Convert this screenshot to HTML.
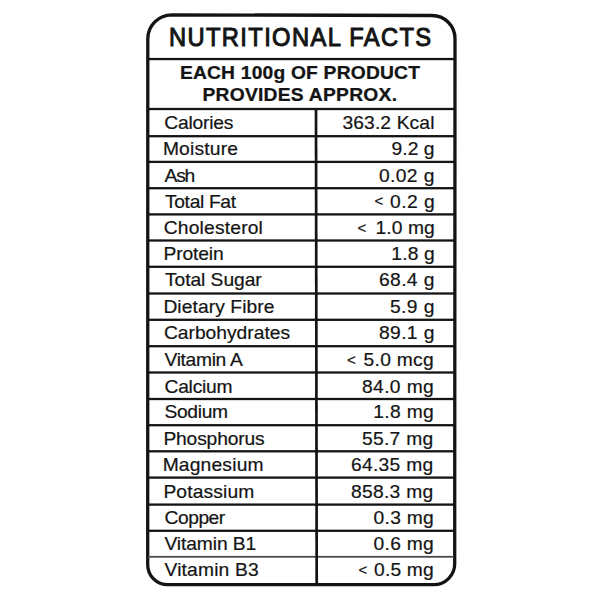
<!DOCTYPE html>
<html><head><meta charset="utf-8"><style>
html,body{margin:0;padding:0;background:#fff;}
body{width:600px;height:600px;overflow:hidden;}
svg{display:block;}
text{font-family:"Liberation Sans",sans-serif;}
</style></head><body>
<svg width="600" height="600" viewBox="0 0 600 600">
<path d="M171.8,14.8 L432,15.5 A23,23 0 0 1 455,38.5 L454.7,563.7 A21,21 0 0 1 433.7,584.7 L167.7,584.7 A20,20 0 0 1 147.7,564.7 L147.8,38.8 A24,24 0 0 1 171.8,14.8 Z" fill="none" stroke="#141414" stroke-width="3.3"/>
<g fill="#141414">
<rect x="148" y="57.9" width="306" height="2.3"/>
<rect x="148" y="107.85" width="306" height="2.3"/>
<rect x="148" y="135.05" width="306" height="2.3"/>
<rect x="148" y="160.75" width="306" height="2.3"/>
<rect x="148" y="187.05" width="306" height="2.3"/>
<rect x="148" y="213.25" width="306" height="2.3"/>
<rect x="148" y="239.35" width="306" height="2.3"/>
<rect x="148" y="265.65" width="306" height="2.3"/>
<rect x="148" y="292.35" width="306" height="2.3"/>
<rect x="148" y="318.65" width="306" height="2.3"/>
<rect x="148" y="345.05" width="306" height="2.3"/>
<rect x="148" y="371.35" width="306" height="2.3"/>
<rect x="148" y="397.85" width="306" height="2.3"/>
<rect x="148" y="424.05" width="306" height="2.3"/>
<rect x="148" y="450.15" width="306" height="2.3"/>
<rect x="148" y="476.45" width="306" height="2.3"/>
<rect x="148" y="503.45" width="306" height="2.3"/>
<rect x="148" y="529.65" width="306" height="2.3"/>
<rect x="148" y="555.90" width="306" height="1.8" fill="#4a4a4a"/>
<path d="M314.65,108 L317.35,108 L318.05,584 L315.35,584 Z"/>
</g>
<g fill="#141414" font-family="Liberation Sans, sans-serif">
<text transform="translate(168.97 46.40) scale(0.95 1)" font-size="25" letter-spacing="1.429" stroke="#141414" stroke-width="1.0">NUTRITIONAL FACTS</text>
<text transform="translate(179.90 79.00) scale(1.1 1)" font-size="17.5" letter-spacing="0.186" font-weight="bold" stroke="#141414" stroke-width="0.25">EACH 100g OF PRODUCT</text>
<text transform="translate(202.40 100.70) scale(1.1 1)" font-size="17.5" letter-spacing="0.247" font-weight="bold" stroke="#141414" stroke-width="0.25">PROVIDES APPROX.</text>
<text transform="translate(164.30 129.33) scale(1.1 1)" font-size="17.5" letter-spacing="-0.193" stroke="#141414" stroke-width="0.2">Calories</text>
<text transform="translate(342.40 129.33) scale(1.1 1)" font-size="17.5" letter-spacing="0.122" stroke="#141414" stroke-width="0.2">363.2 Kcal</text>
<text transform="translate(162.90 155.25) scale(1.1 1)" font-size="17.5" letter-spacing="0.168" stroke="#141414" stroke-width="0.2">Moisture</text>
<text transform="translate(391.60 155.25) scale(1.1 1)" font-size="17.5" letter-spacing="-0.002" stroke="#141414" stroke-width="0.2">9.2 g</text>
<text transform="translate(164.50 181.81) scale(1.1 1)" font-size="17.5" letter-spacing="-1.075" stroke="#141414" stroke-width="0.2">Ash</text>
<text transform="translate(379.00 181.81) scale(1.1 1)" font-size="17.5" letter-spacing="0.343" stroke="#141414" stroke-width="0.2">0.02 g</text>
<text transform="translate(165.00 207.98) scale(1.1 1)" font-size="17.5" letter-spacing="-0.310" stroke="#141414" stroke-width="0.2">Total Fat</text>
<text x="374.50" y="206.38" font-size="15" stroke="#141414" stroke-width="0.2">&lt;</text>
<text transform="translate(390.00 207.98) scale(1.1 1)" font-size="17.5" letter-spacing="0.453" stroke="#141414" stroke-width="0.2">0.2 g</text>
<text transform="translate(163.75 234.39) scale(1.1 1)" font-size="17.5" letter-spacing="0.169" stroke="#141414" stroke-width="0.2">Cholesterol</text>
<text x="357.50" y="232.79" font-size="15" stroke="#141414" stroke-width="0.2">&lt;</text>
<text transform="translate(375.40 234.39) scale(1.1 1)" font-size="17.5" letter-spacing="0.101" stroke="#141414" stroke-width="0.2">1.0 mg</text>
<text transform="translate(163.40 260.41) scale(1.1 1)" font-size="17.5" letter-spacing="-0.089" stroke="#141414" stroke-width="0.2">Protein</text>
<text transform="translate(391.30 260.41) scale(1.1 1)" font-size="17.5" letter-spacing="0.157" stroke="#141414" stroke-width="0.2">1.8 g</text>
<text transform="translate(165.00 286.37) scale(1.1 1)" font-size="17.5" letter-spacing="-0.052" stroke="#141414" stroke-width="0.2">Total Sugar</text>
<text transform="translate(379.00 286.37) scale(1.1 1)" font-size="17.5" letter-spacing="0.343" stroke="#141414" stroke-width="0.2">68.4 g</text>
<text transform="translate(163.40 312.83) scale(1.1 1)" font-size="17.5" letter-spacing="0.074" stroke="#141414" stroke-width="0.2">Dietary Fibre</text>
<text transform="translate(390.00 312.83) scale(1.1 1)" font-size="17.5" letter-spacing="0.362" stroke="#141414" stroke-width="0.2">5.9 g</text>
<text transform="translate(163.90 339.25) scale(1.1 1)" font-size="17.5" letter-spacing="0.005" stroke="#141414" stroke-width="0.2">Carbohydrates</text>
<text transform="translate(379.00 339.25) scale(1.1 1)" font-size="17.5" letter-spacing="0.343" stroke="#141414" stroke-width="0.2">89.1 g</text>
<text transform="translate(164.50 366.46) scale(1.1 1)" font-size="17.5" letter-spacing="-0.300" stroke="#141414" stroke-width="0.2">Vitamin A</text>
<text x="347.00" y="364.86" font-size="15" stroke="#141414" stroke-width="0.2">&lt;</text>
<text transform="translate(363.50 366.46) scale(1.1 1)" font-size="17.5" letter-spacing="0.277" stroke="#141414" stroke-width="0.2">5.0 mcg</text>
<text transform="translate(164.50 392.88) scale(1.1 1)" font-size="17.5" letter-spacing="-0.211" stroke="#141414" stroke-width="0.2">Calcium</text>
<text transform="translate(362.00 392.88) scale(1.1 1)" font-size="17.5" letter-spacing="0.341" stroke="#141414" stroke-width="0.2">84.0 mg</text>
<text transform="translate(164.50 418.29) scale(1.1 1)" font-size="17.5" letter-spacing="-0.297" stroke="#141414" stroke-width="0.2">Sodium</text>
<text transform="translate(373.30 418.29) scale(1.1 1)" font-size="17.5" letter-spacing="0.301" stroke="#141414" stroke-width="0.2">1.8 mg</text>
<text transform="translate(163.40 444.71) scale(1.1 1)" font-size="17.5" letter-spacing="-0.142" stroke="#141414" stroke-width="0.2">Phosphorus</text>
<text transform="translate(362.00 444.71) scale(1.1 1)" font-size="17.5" letter-spacing="0.250" stroke="#141414" stroke-width="0.2">55.7 mg</text>
<text transform="translate(162.65 471.25) scale(1.1 1)" font-size="17.5" letter-spacing="0.169" stroke="#141414" stroke-width="0.2">Magnesium</text>
<text transform="translate(351.00 471.25) scale(1.1 1)" font-size="17.5" letter-spacing="0.253" stroke="#141414" stroke-width="0.2">64.35 mg</text>
<text transform="translate(163.40 497.54) scale(1.1 1)" font-size="17.5" letter-spacing="0.127" stroke="#141414" stroke-width="0.2">Potassium</text>
<text transform="translate(351.00 497.54) scale(1.1 1)" font-size="17.5" letter-spacing="0.253" stroke="#141414" stroke-width="0.2">858.3 mg</text>
<text transform="translate(164.50 524.40) scale(1.1 1)" font-size="17.5" letter-spacing="-0.423" stroke="#141414" stroke-width="0.2">Copper</text>
<text transform="translate(373.60 524.40) scale(1.1 1)" font-size="17.5" letter-spacing="0.247" stroke="#141414" stroke-width="0.2">0.3 mg</text>
<text transform="translate(164.50 550.42) scale(1.1 1)" font-size="17.5" letter-spacing="-0.094" stroke="#141414" stroke-width="0.2">Vitamin B1</text>
<text transform="translate(373.60 550.42) scale(1.1 1)" font-size="17.5" letter-spacing="0.247" stroke="#141414" stroke-width="0.2">0.6 mg</text>
<text transform="translate(164.50 576.38) scale(1.1 1)" font-size="17.5" letter-spacing="0.159" stroke="#141414" stroke-width="0.2">Vitamin B3</text>
<text x="358.50" y="574.78" font-size="15" stroke="#141414" stroke-width="0.2">&lt;</text>
<text transform="translate(374.00 576.38) scale(1.1 1)" font-size="17.5" letter-spacing="0.174" stroke="#141414" stroke-width="0.2">0.5 mg</text>
</g>
</svg>
</body></html>
